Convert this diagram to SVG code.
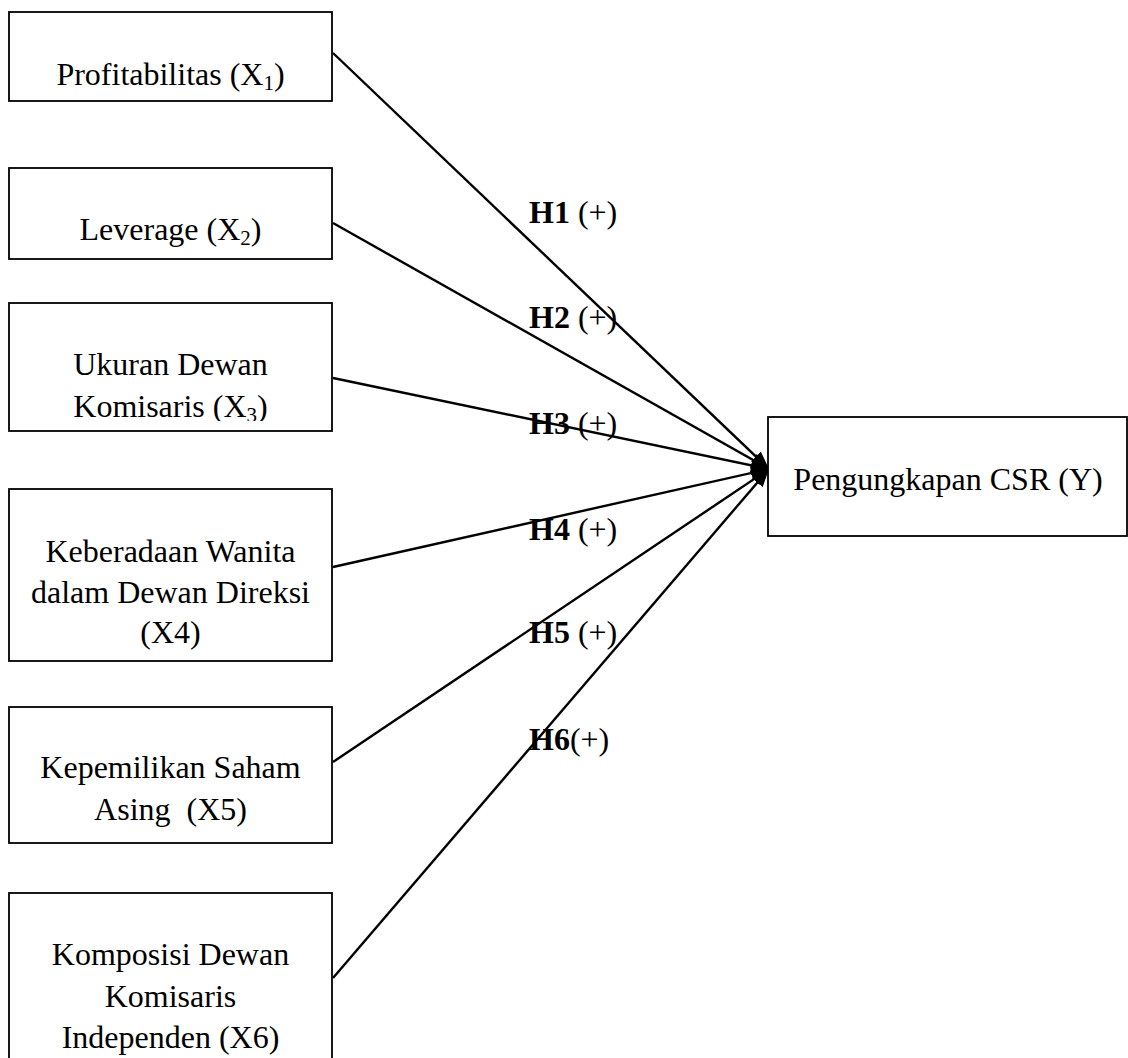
<svg xmlns="http://www.w3.org/2000/svg" width="1128" height="1058" viewBox="0 0 1128 1058">
<style>
.box{fill:#fff;stroke:#000;stroke-width:1.8}
.t{font-family:"Liberation Serif","Times New Roman",serif;font-size:32px;fill:#000;text-anchor:middle}
.lbl{font-family:"Liberation Serif","Times New Roman",serif;font-size:32px;fill:#000}
.b{font-weight:bold}
.edge{stroke:#000;stroke-width:2.4;fill:none;marker-end:url(#arr)}
.sub{font-size:21px}
</style>
<defs>
<marker id="arr" markerUnits="userSpaceOnUse" viewBox="0 0 18 14" refX="18" refY="7" markerWidth="18" markerHeight="14" orient="auto">
<path d="M0,0 L18,7 L0,14 z" fill="#000"/>
</marker>
<clipPath id="c3"><rect x="9" y="303" width="323" height="118"/></clipPath>
</defs>
<rect width="1128" height="1058" fill="#fff"/>
<g id="connectors">
<line class="edge" x1="333" y1="53" x2="769" y2="469"/>
<line class="edge" x1="333" y1="223" x2="769" y2="469"/>
<line class="edge" x1="333" y1="378" x2="769" y2="469"/>
<line class="edge" x1="333" y1="567" x2="769" y2="469"/>
<line class="edge" x1="333" y1="762" x2="769" y2="469"/>
<line class="edge" x1="333" y1="978" x2="769" y2="469"/>
</g>
<g id="x1">
<rect class="box" x="9" y="12" width="323" height="89"/>
<text class="t" x="170.5" y="85">Profitabilitas (X<tspan class="sub" dy="5">1</tspan><tspan dy="-5">)</tspan></text>
</g>
<g id="x2">
<rect class="box" x="9" y="168" width="323" height="91"/>
<text class="t" x="170.5" y="240">Leverage (X<tspan class="sub" dy="5">2</tspan><tspan dy="-5">)</tspan></text>
</g>
<g id="x3">
<rect class="box" x="9" y="303" width="323" height="128"/>
<text class="t" x="170.5" y="375">Ukuran Dewan</text>
<text class="t" x="170.5" y="417" clip-path="url(#c3)">Komisaris (X<tspan class="sub" dy="5">3</tspan><tspan dy="-5">)</tspan></text>
</g>
<g id="x4">
<rect class="box" x="9" y="489" width="323" height="172"/>
<text class="t" x="170.5" y="562">Keberadaan Wanita</text>
<text class="t" x="170.5" y="603">dalam Dewan Direksi</text>
<text class="t" x="170.5" y="643">(X4)</text>
</g>
<g id="x5">
<rect class="box" x="9" y="707" width="323" height="136"/>
<text class="t" x="170.5" y="778">Kepemilikan Saham</text>
<text class="t" x="170.5" y="820" xml:space="preserve">Asing  (X5)</text>
</g>
<g id="x6">
<rect class="box" x="9" y="893" width="323" height="175"/>
<text class="t" x="170.5" y="965">Komposisi Dewan</text>
<text class="t" x="170.5" y="1007">Komisaris</text>
<text class="t" x="170.5" y="1048">Independen (X6)</text>
</g>
<g id="y">
<rect class="box" x="768" y="417" width="359" height="119"/>
<text class="t" x="948" y="490">Pengungkapan CSR (Y)</text>
</g>
<g id="labels">
<text class="lbl" x="529" y="223"><tspan class="b">H1</tspan> (+)</text>
<text class="lbl" x="529" y="328"><tspan class="b">H2</tspan> (+)</text>
<text class="lbl" x="529" y="434"><tspan class="b">H3</tspan> (+)</text>
<text class="lbl" x="529" y="540"><tspan class="b">H4</tspan> (+)</text>
<text class="lbl" x="529" y="643"><tspan class="b">H5</tspan> (+)</text>
<text class="lbl" x="529" y="750"><tspan class="b">H6</tspan>(+)</text>
</g>
</svg>
